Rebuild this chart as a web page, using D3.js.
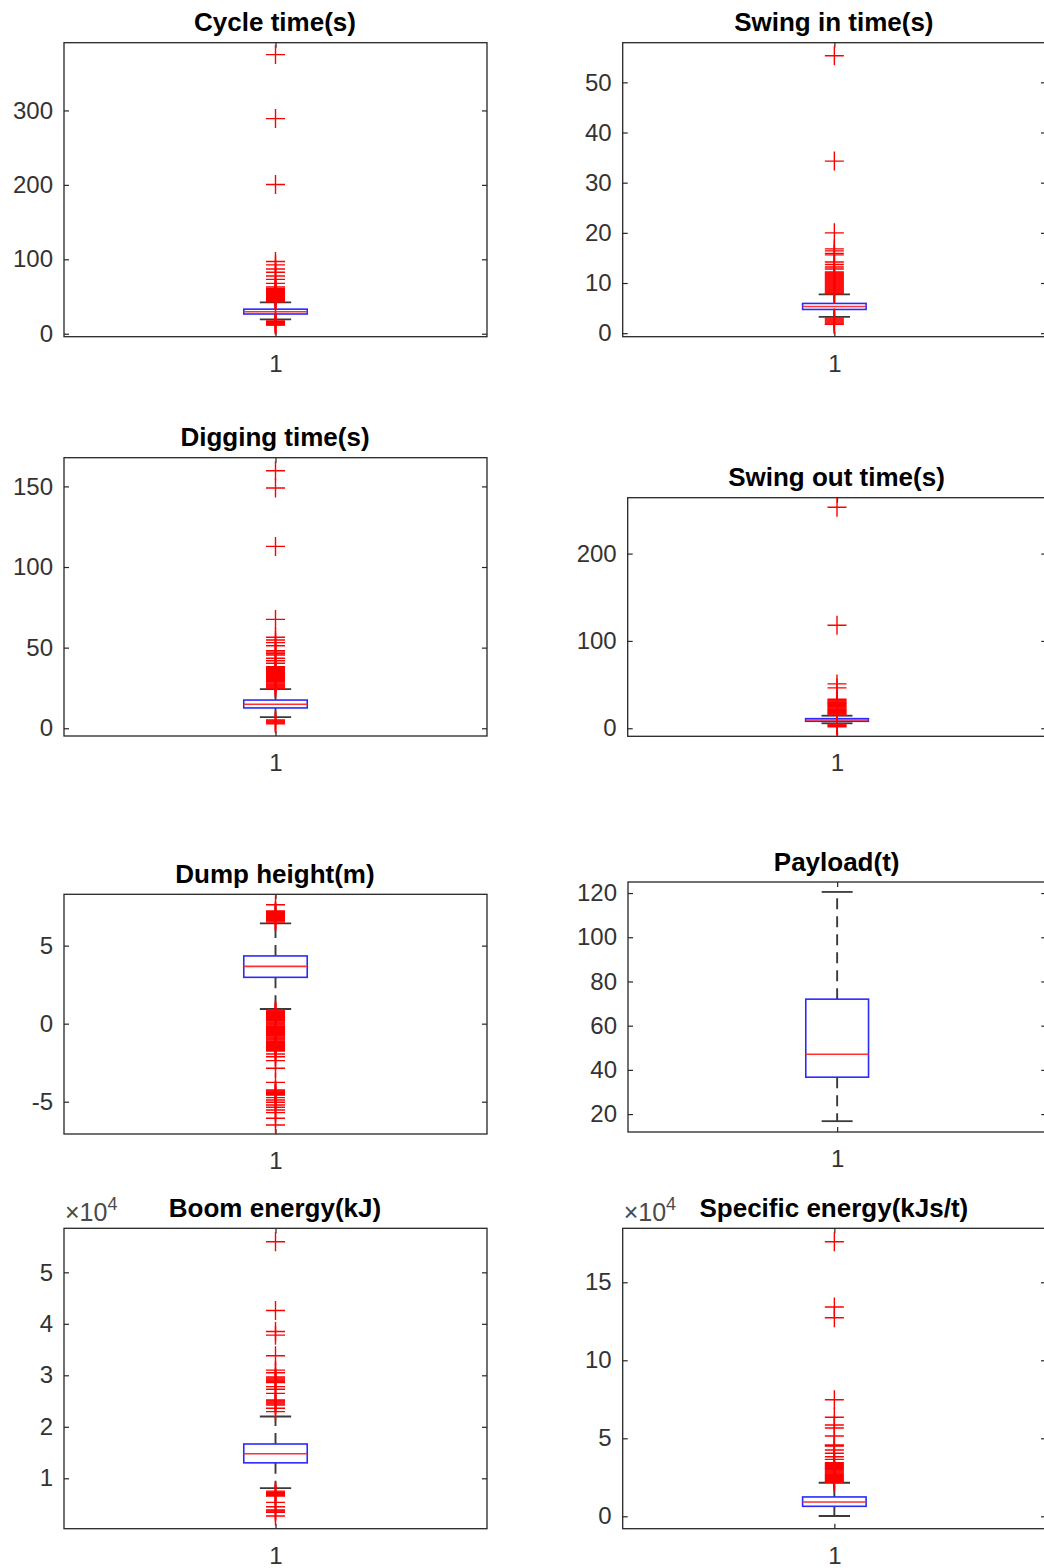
<!DOCTYPE html>
<html>
<head>
<meta charset="utf-8">
<script src="https://cdn.jsdelivr.net/npm/d3@7"></script>
<style>
  body { margin: 0; background: #fff; }
  svg { display: block; }
  text { font-family: "Liberation Sans", Arial, Helvetica, sans-serif; }
</style>
</head>
<body>
<svg id="fig" width="1044" height="1568"></svg>
<script>
// ---- data -------------------------------------------------------------
const titles = ["Cycle time(s)", "Swing in time(s)", "Digging time(s)", "Swing out time(s)",
                "Dump height(m)", "Payload(t)", "Boom energy(kJ)", "Specific energy(kJs/t)"];
const categories = ["1"];

// box statistics per panel
const q1          = [26.5, 4.73, 12.6, 8.0, 2.97, 36.7, 13000, 6400];
const medians     = [29.6, 5.33, 14.9, 9.5, 3.67, 47.1, 14780, 9200];
const q3          = [33.0, 5.93, 17.5, 11.0, 4.34, 72.0, 16660, 12400];
const whiskerLow  = [19.3, 3.25, 6.9, 5.7, 0.94, 16.8, 8100, 200];
const whiskerHigh = [42.2, 7.75, 24.3, 14.4, 6.43, 120.5, 22000, 21500];

// outliers per panel
const cycleOutliers = [375, 289, 200.5, 97, 92.5, 87, 82.5, 77.5, 73, 67.7, 63, 61, 60.2, 59.3, 58.5,
  57.6, 56.8, 55.9, 55, 54.2, 53.3, 52.5, 51.6, 50.8, 49.9, 49, 48.2, 47.3, 46.5, 45.6, 44.8, 43.9, 43,
  17, 16.3, 15.6, 14.9, 14.2, 13.5, 12.8, 12.1, 11.6];
const swingInOutliers = [55.3, 34.3, 20, 16.8, 16.4, 15.9, 15.6, 14.2, 13.7, 13.2, 12.8, 12.2, 12.0,
  11.8, 11.6, 11.4, 11.2, 11.0, 10.8, 10.6, 10.4, 10.2, 10.0, 9.8, 9.6, 9.4, 9.2, 9.0, 8.8, 8.6, 8.4,
  8.2, 8.0, 7.85, 3.05, 2.85, 2.65, 2.45, 2.25, 2.05, 1.85, 1.75];
const diggingOutliers = [159.7, 149, 112.8, 67.5, 56.4, 54.7, 53.1, 51.2, 48.1, 47.2, 46.3, 45.4, 43.4,
  41.9, 40.3, 38.2, 37.6, 37.0, 36.4, 35.8, 35.2, 34.6, 34.0, 33.4, 32.8, 32.2, 31.6, 31.0, 30.4, 29.8,
  29.2, 28.6, 28.0, 27.4, 26.8, 26.2, 25.6, 25.0, 24.5, 5.1, 4.5, 3.9, 3.3, 2.7];
const swingOutOutliers = [253, 118, 50.8, 46.2, 33.2, 32.2, 31.2, 30.2, 29.2, 28.2, 27.2, 26.2, 25.2,
  24.2, 23.2, 22.2, 21.2, 20.2, 19.2, 18.2, 17.2, 16.2, 15.2, 4.9, 3.9, 2.9, 1.8];
const dumpOutliers = [7.62, 7.23, 7.17, 7.11, 7.05, 6.99, 6.93, 6.87, 6.81, 6.75, 6.69, 6.63, 6.57, 6.51,
  0.88, 0.82, 0.76, 0.70, 0.64, 0.58, 0.52, 0.46, 0.40, 0.34, 0.28, 0.22, 0.16, 0.10, 0.04, -0.02,
  -0.08, -0.14, -0.20, -0.26, -0.32, -0.38, -0.44, -0.50, -0.56, -0.62, -0.68, -0.74, -0.80, -0.86,
  -0.92, -0.98, -1.04, -1.10, -1.16, -1.22, -1.28, -1.34, -1.40, -1.46, -1.52, -1.58, -1.64, -1.70,
  -1.75, -1.94, -2.12, -2.37, -2.86, -3.76, -4.25, -4.31, -4.37, -4.43, -4.49, -4.55, -4.58, -4.74,
  -4.89, -5.04, -5.21, -5.36, -5.53, -5.70, -6.06, -6.49];
const payloadOutliers = [];
const boomOutliers = [55950, 42600, 38500, 37800, 33800, 31000, 30500, 29700, 29500, 29300, 29100,
  28900, 28700, 28600, 27800, 27300, 26500, 25200, 25000, 24800, 24600, 24400, 24200, 23600, 22950,
  7500, 7300, 7100, 6900, 6700, 6560, 5330, 4470, 3850, 3650, 3400, 2680];
const specificOutliers = [176000, 134200, 127300, 74700, 63500, 58500, 56600, 51500, 45700, 45300,
  45000, 42500, 40400, 38200, 36500, 34400, 33800, 33200, 32600, 32000, 31400, 30800, 30200, 29600,
  29000, 28400, 27800, 27200, 26600, 26000, 25400, 24800, 24200, 23600, 23000, 22400, 21800];
const outliers = [cycleOutliers, swingInOutliers, diggingOutliers, swingOutOutliers,
                  dumpOutliers, payloadOutliers, boomOutliers, specificOutliers];

// axis limits, tick values and exponent of the tick labels
const yLimits = [[-4, 391], [-0.7, 57.9], [-4.8, 167.8], [-9.2, 264], [-7.07, 8.29],
                 [11.9, 125], [210, 58550], [-7950, 184600]];
const yTicks = [[0, 100, 200, 300], [0, 10, 20, 30, 40, 50], [0, 50, 100, 150], [0, 100, 200],
                [-5, 0, 5], [20, 40, 60, 80, 100, 120], [10000, 20000, 30000, 40000, 50000],
                [0, 50000, 100000, 150000]];
const exponents = [0, 0, 0, 0, 0, 0, 4, 4];

// ---- layout -----------------------------------------------------------
const frames = [
  { x0: 64,    x1: 487,    y0: 42.7,   y1: 336.7 },
  { x0: 622.7, x1: 1046,   y0: 42.7,   y1: 336.7 },
  { x0: 64,    x1: 487,    y0: 457.7,  y1: 736 },
  { x0: 627.7, x1: 1046.3, y0: 497.7,  y1: 736.3 },
  { x0: 64,    x1: 487,    y0: 894.3,  y1: 1134 },
  { x0: 628,   x1: 1046.3, y0: 882,    y1: 1132 },
  { x0: 64,    x1: 487,    y0: 1228.3, y1: 1528.7 },
  { x0: 622.7, x1: 1046,   y0: 1228.3, y1: 1528.7 }
];

const AXIS = "#262626";
const BOX_HALF = 0.075, CAP_HALF = 0.037, MARK = 9.5;

const svg = d3.select("#fig");

titles.forEach((title, i) => {
  const f = frames[i];
  const g = svg.append("g");
  const x = d3.scaleLinear().domain([0.5, 1.5]).range([f.x0, f.x1]);
  const y = d3.scaleLinear().domain(yLimits[i]).range([f.y1, f.y0]);
  const p = Math.pow(10, exponents[i]);
  const fmt = d => String(+(d / p).toFixed(6));

  // axes (ticks point inward)
  const axes = [
    g.append("g").attr("transform", `translate(${f.x0},0)`)
      .call(d3.axisLeft(y).tickValues(yTicks[i]).tickFormat(fmt)
        .tickSizeInner(-5).tickSizeOuter(0).tickPadding(11)),
    g.append("g").attr("transform", `translate(${f.x1},0)`)
      .call(d3.axisRight(y).tickValues(yTicks[i]).tickFormat("")
        .tickSizeInner(-5).tickSizeOuter(0)),
    g.append("g").attr("transform", `translate(0,${f.y1})`)
      .call(d3.axisBottom(x).tickValues([1]).tickFormat(() => categories[0])
        .tickSizeInner(-5).tickSizeOuter(0).tickPadding(18)),
    g.append("g").attr("transform", `translate(0,${f.y0})`)
      .call(d3.axisTop(x).tickValues([1]).tickFormat("")
        .tickSizeInner(-5).tickSizeOuter(0))
  ];
  axes.forEach(a => {
    a.attr("font-family", null).attr("font-size", null);
    a.select(".domain").remove();
    a.selectAll(".tick line").attr("stroke", AXIS).attr("stroke-width", 1.2);
    a.selectAll(".tick text").attr("fill", "#333").style("font-size", "24px");
  });

  // frame
  g.append("rect")
    .attr("x", f.x0).attr("y", f.y0)
    .attr("width", f.x1 - f.x0).attr("height", f.y1 - f.y0)
    .attr("fill", "none").attr("stroke", AXIS).attr("stroke-width", 1.3);

  // title
  g.append("text")
    .attr("x", (f.x0 + f.x1) / 2 - 0.5).attr("y", f.y0 - 11.5)
    .attr("text-anchor", "middle")
    .style("font-size", "26px").style("font-weight", "bold").attr("fill", "#000")
    .text(title);

  // exponent label
  if (exponents[i]) {
    const t = g.append("text").attr("x", f.x0 + 1).attr("y", f.y0 - 7).attr("fill", "#4a4a4a");
    t.append("tspan").style("font-size", "25px").text("×");
    t.append("tspan").style("font-size", "25px").text("10");
    t.append("tspan").style("font-size", "18px").attr("dy", -11).text(String(exponents[i]));
  }

  const cx = x(1);

  // whiskers
  const dashed = [[q3[i], whiskerHigh[i]], [q1[i], whiskerLow[i]]];
  g.selectAll(".whisker").data(dashed).join("line")
    .attr("x1", cx).attr("x2", cx)
    .attr("y1", d => y(d[0])).attr("y2", d => y(d[1]))
    .attr("stroke", "#3a3a3a").attr("stroke-width", 1.9)
    .attr("stroke-dasharray", "11,7");

  // whisker caps
  g.selectAll(".cap").data([whiskerHigh[i], whiskerLow[i]]).join("line")
    .attr("x1", x(1 - CAP_HALF)).attr("x2", x(1 + CAP_HALF))
    .attr("y1", d => y(d)).attr("y2", d => y(d))
    .attr("stroke", "#3a3a3a").attr("stroke-width", 1.8);

  // box
  g.append("rect")
    .attr("x", x(1 - BOX_HALF)).attr("width", x(1 + BOX_HALF) - x(1 - BOX_HALF))
    .attr("y", y(q3[i])).attr("height", y(q1[i]) - y(q3[i]))
    .attr("fill", "none").attr("stroke", "#2a2aff").attr("stroke-width", 1.6);

  // median
  g.append("line")
    .attr("x1", x(1 - BOX_HALF)).attr("x2", x(1 + BOX_HALF))
    .attr("y1", y(medians[i])).attr("y2", y(medians[i]))
    .attr("stroke", "#ff3030").attr("stroke-width", 1.6);

  // outliers as '+' markers
  g.selectAll(".outlier").data(outliers[i]).join("path")
    .attr("d", v => `M${cx - MARK},${y(v)}h${2 * MARK}M${cx},${y(v) - MARK}v${2 * MARK}`)
    .attr("stroke", "#ff0000").attr("stroke-width", 1.4).attr("fill", "none");
});
</script>
</body>
</html>
